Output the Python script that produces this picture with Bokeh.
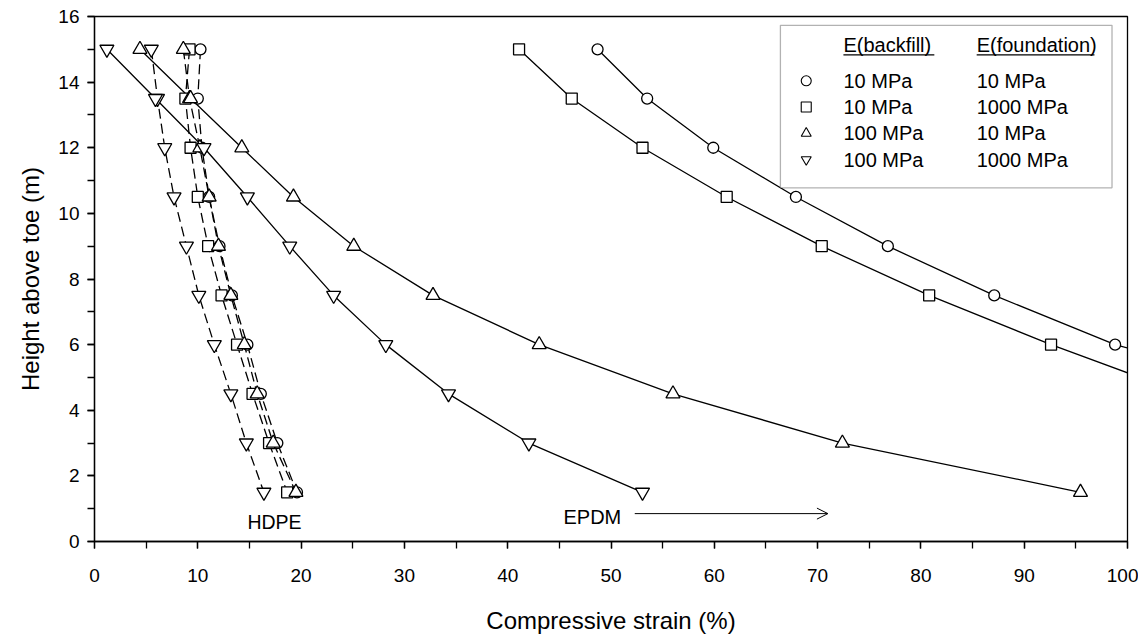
from bokeh.plotting import figure
from bokeh.models import Range1d, FixedTicker, Label, Arrow, OpenHead, BoxAnnotation, ColumnDataSource
from bokeh.embed import file_html
from bokeh.resources import INLINE

FONT = "Liberation Sans"

# ---------------- data ----------------
heights = [15, 13.5, 12, 10.5, 9, 7.5, 6, 4.5, 3, 1.5]

# EPDM (solid lines) - compressive strain (%)
epdm_circle = [48.7, 53.5, 59.9, 67.9, 76.8, 87.1, 98.8, 116.0]      # continues beyond axis
epdm_square = [41.1, 46.2, 53.05, 61.2, 70.4, 80.8, 92.6, 105.5]     # continues beyond axis
epdm_tri_up = [4.4, 9.3, 14.26, 19.26, 25.1, 32.77, 43.05, 56.0, 72.4, 95.45]
epdm_tri_dn = [1.2, 5.9, 10.6, 14.8, 18.9, 23.15, 28.2, 34.27, 42.05, 53.05]

# HDPE (dashed lines)
hdpe_circle = [10.26, 10.0, 10.4, 11.1, 12.1, 13.3, 14.8, 16.1, 17.7, 19.6]
hdpe_square = [9.2, 8.8, 9.3, 10.0, 11.0, 12.3, 13.8, 15.3, 16.9, 18.65]
hdpe_tri_up = [8.6, 9.2, 10.2, 11.1, 12.0, 13.2, 14.5, 15.75, 17.3, 19.5]
hdpe_tri_dn = [5.5, 6.1, 6.8, 7.7, 8.9, 10.1, 11.6, 13.2, 14.7, 16.4]

x_ticks = [0, 10, 20, 30, 40, 50, 60, 70, 80, 90, 100]
y_ticks = [0, 2, 4, 6, 8, 10, 12, 14, 16]

legend_backfill = ["10 MPa", "10 MPa", "100 MPa", "100 MPa"]
legend_foundation = ["10 MPa", "1000 MPa", "10 MPa", "1000 MPa"]
legend_markers = ["circle", "square", "triangle", "inverted_triangle"]

# ---------------- figure ----------------
p = figure(width=1138, height=636, output_backend="svg", toolbar_location=None,
           x_range=Range1d(0, 100), y_range=Range1d(0, 16),
           min_border_left=94, min_border_right=11, min_border_top=16, min_border_bottom=87)
p.xgrid.visible = False
p.ygrid.visible = False
p.outline_line_color = "black"
p.outline_line_width = 1.3
p.background_fill_color = "white"

p.xaxis.ticker = FixedTicker(ticks=x_ticks, minor_ticks=[v * 5 for v in range(21)])
p.yaxis.ticker = FixedTicker(ticks=y_ticks, minor_ticks=list(range(17)))
for ax in (p.xaxis, p.yaxis):
    ax.axis_line_color = "black"
    ax.axis_line_width = 1.3
    ax.major_tick_in = 0
    ax.major_tick_out = 7
    ax.minor_tick_in = 0
    ax.minor_tick_out = 7
    ax.major_tick_line_color = "black"
    ax.minor_tick_line_color = "black"
    ax.major_tick_line_width = 1.3
    ax.minor_tick_line_width = 1.3
    ax.major_label_text_font = FONT
    ax.major_label_text_font_size = "19px"
    ax.major_label_text_color = "black"
    ax.axis_label_text_font = FONT
    ax.axis_label_text_font_size = "24px"
    ax.axis_label_text_font_style = "normal"
    ax.axis_label_text_color = "black"
p.xaxis.axis_label = "Compressive strain (%)"
p.yaxis.axis_label = "Height above toe (m)"
p.xaxis.major_label_standoff = 20
p.xaxis.axis_label_standoff = 22
p.yaxis.major_label_standoff = 8
p.yaxis.axis_label_standoff = 11

LW = 1.3

def series(xs, marker, dash, size):
    src = ColumnDataSource(dict(x=xs, y=heights[:len(xs)]))
    p.line("x", "y", source=src, line_color="black", line_width=LW, line_dash=dash)
    return src, marker, size

marks = []
marks.append(series(hdpe_circle, "circle", "10 5", 11))
marks.append(series(hdpe_square, "square", "10 5", 11))
marks.append(series(hdpe_tri_up, "triangle", "10 5", 14))
marks.append(series(hdpe_tri_dn, "inverted_triangle", "10 5", 14))
marks.append(series(epdm_circle, "circle", "solid", 11))
marks.append(series(epdm_square, "square", "solid", 11))
marks.append(series(epdm_tri_up, "triangle", "solid", 14))
marks.append(series(epdm_tri_dn, "inverted_triangle", "solid", 14))
for src, marker, size in marks:
    p.scatter("x", "y", source=src, marker=marker, size=size,
              fill_color="white", line_color="black", line_width=LW)

# ---------------- legend (drawn by hand) ----------------
leg_left, leg_right, leg_bottom, leg_top = 66.4, 98.5, 10.78, 15.73
p.add_layout(BoxAnnotation(left=leg_left, right=leg_right, bottom=leg_bottom, top=leg_top,
                           fill_color="white", fill_alpha=1.0, line_color="black",
                           line_width=1.3, level="annotation"))
row_y = [14.04, 13.24, 12.44, 11.64]
mk_x = 68.9
col1_x = 72.5
col2_x = 85.4
hdr_y = 15.13

leg_src = ColumnDataSource(dict(x=[mk_x] * 4, y=row_y, m=legend_markers))
r = p.scatter("x", "y", source=leg_src, marker="m", size=10, fill_color="white",
              line_color="black", line_width=1.1)
r.level = "overlay"

def lab(x, y, text, size="20px", align="left"):
    p.add_layout(Label(x=x, y=y, text=text, text_font=FONT, text_font_size=size,
                       text_color="black", text_align=align, text_baseline="middle",
                       level="overlay"))

lab(col1_x, hdr_y, "E(backfill)")
lab(col2_x, hdr_y, "E(foundation)")
for yy, a, b in zip(row_y, legend_backfill, legend_foundation):
    lab(col1_x, yy, a)
    lab(col2_x, yy, b)
ul = ColumnDataSource(dict(x0=[72.5, 85.4], x1=[81.3, 96.8], y0=[14.83, 14.83], y1=[14.83, 14.83]))
u = p.segment("x0", "y0", "x1", "y1", source=ul, line_color="black", line_width=1.3)
u.level = "overlay"

# ---------------- annotations ----------------
lab(14.8, 0.6, "HDPE", size="19.5px")
lab(45.4, 0.75, "EPDM")
p.add_layout(Arrow(end=OpenHead(size=11, line_color="black", line_width=1),
                   x_start=52.3, y_start=0.85, x_end=71.0, y_end=0.85,
                   line_color="black", line_width=1))

open("out.html", "w").write(file_html(p, INLINE))
